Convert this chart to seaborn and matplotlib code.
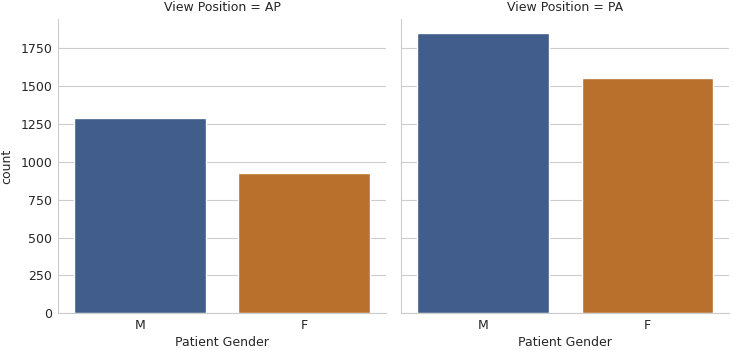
import pandas as pd
import matplotlib
matplotlib.use("Agg")
import matplotlib.pyplot as plt
import seaborn as sns

# counts
view_positions = ["AP", "PA"]
genders = ["M", "F"]
counts_ap = [1288, 924]
counts_pa = [1849, 1552]
bar_colors = ["#405d8b", "#b8702c"]

rows = []
for vp, counts in zip(view_positions, [counts_ap, counts_pa]):
    for g, c in zip(genders, counts):
        rows.append({"View Position": vp, "Patient Gender": g, "count": c})
df = pd.DataFrame(rows)

sns.set_style("whitegrid")
plt.rcParams["font.family"] = ["DejaVu Sans"]
fs = 9

g = sns.catplot(data=df, x="Patient Gender", y="count", col="View Position",
                kind="bar", hue="Patient Gender", palette=bar_colors,
                saturation=1, legend=False, height=3.5, aspect=1.0)
g.figure.set_size_inches(7.33, 3.5)
for ax in g.axes.flat:
    ax.grid(axis="x", visible=False)
    ax.tick_params(labelsize=fs, length=0, pad=4)
    ax.set_xlabel("Patient Gender", size=fs, labelpad=3)
    ax.spines["left"].set_color("#cccccc")
    ax.spines["bottom"].set_color("#cccccc")
g.set_titles("View Position = {col_name}", size=fs)
g.axes.flat[0].set_ylabel("count", size=fs, labelpad=5)
g.figure.subplots_adjust(left=0.079, right=0.995, bottom=0.105, top=0.945, wspace=0.045)

g.figure.savefig("out.png", dpi=100)
